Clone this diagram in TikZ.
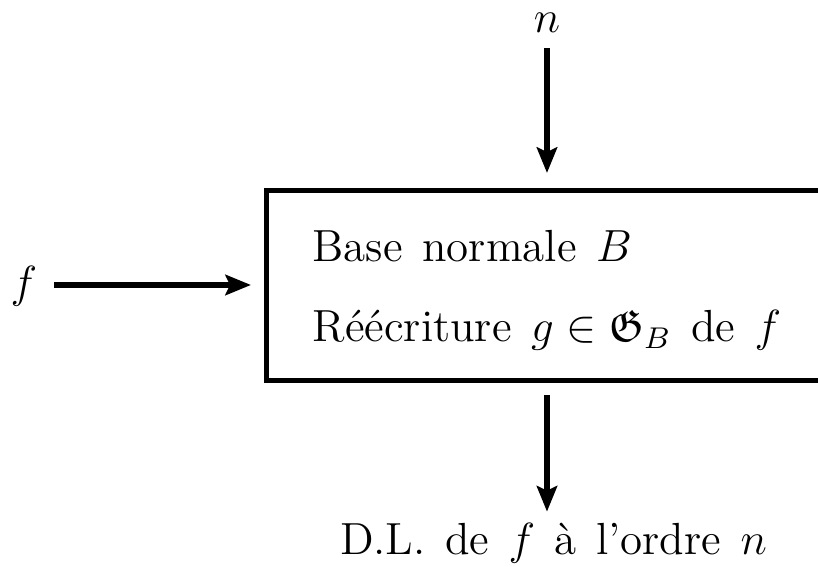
\documentclass[12pt,tikz,border=0pt]{standalone}
\usepackage{amssymb}
\usetikzlibrary{arrows.meta}
\begin{document}
\begin{tikzpicture}[x=0.26667pt,y=-0.26667pt,
  lbl/.style={inner sep=0pt, font={\spaceskip=5.2pt plus 1pt minus 1pt\relax}},
  arr/.style={line width=1.4pt,-{Stealth[length=6.8pt,width=5.4pt,inset=1.2pt]}},
  frame/.style={line width=1.35pt}]
\useasboundingbox (0,0) rectangle (818,567);
% box (open on the right, extends past the edge)
\node[minimum width=592.5*0.26667pt, minimum height=188*0.26667pt, inner sep=0pt, draw=none] (box) at (563.75,285.5) {};
\draw[frame] (box.north east) -- (box.north west) -- (box.south west) -- (box.south east);
\node[lbl, anchor=base west] (l1) at (312,262) {Base normale $B$};
\node[lbl, anchor=base west] (l2) at (312,342) {R\'e\'ecriture $g\in\mathfrak{G}_B$ de $f$};
% inputs / output
\node[lbl, anchor=base, outer sep=4pt] (n) at (547,33) {$n$};
\coordinate (nIn) at (547,173);
\draw[arr] (n) -- (nIn);
\node[lbl, anchor=base, outer sep=4.4pt] (f) at (24,298) {$f$};
\coordinate (fIn) at (251,285);
\draw[arr] (f.east |- fIn) -- (fIn);
\coordinate (outStart) at (547,395);
\node[lbl, anchor=base, outer sep=3.2pt] (out) at (553.5,555) {D.L. de $f$ \`a l'ordre $n$};
\draw[arr] (outStart) -- (outStart |- out.north);
\end{tikzpicture}
\end{document}
